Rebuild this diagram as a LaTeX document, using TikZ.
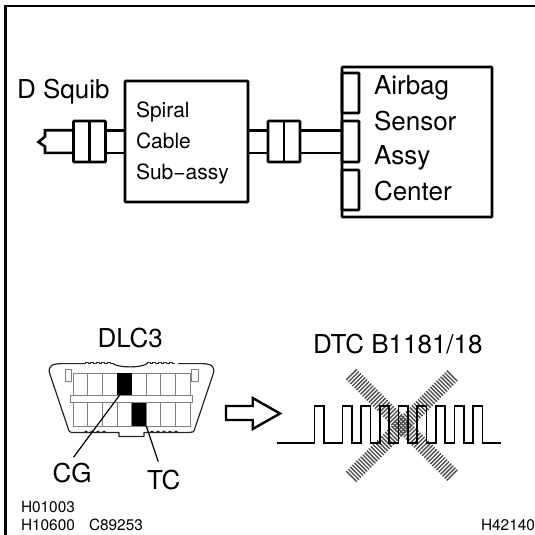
\documentclass[tikz,border=0pt]{standalone}
\usepackage{fontspec}
\setmainfont{TeX Gyre Heros}
\usetikzlibrary{positioning}

\begin{document}
\begin{tikzpicture}[
  x=1pt, y=-1pt,
  pBox/.style={rectangle, draw=black, line width=2.6pt, rounded corners=0.6pt,
    inner sep=0pt, outer sep=0pt},
  pPlug/.style={pBox, minimum width=32pt, minimum height=41pt},
  pTab/.style={pBox, minimum width=17pt, minimum height=40pt},
  pWire/.style={line width=2.6pt, black},
  pBig/.style={inner sep=0pt, outer sep=0pt, anchor=base west,
    font=\fontsize{26}{26}\selectfont},
  pMid/.style={pBig, font=\fontsize{21}{21}\selectfont},
  pSmall/.style={pBig, font=\fontsize{15.4}{15.4}\selectfont},
  pGrid/.style={line width=0.9pt, black!50},
  pPin/.style={rectangle, fill=black, inner sep=0pt, outer sep=0pt,
    minimum width=14.6pt},
  pShell/.style={line width=1.2pt, black!85, line join=round},
  pLead/.style={line width=1.2pt, black},
  pHatch/.style={line width=1.35pt, black!70},
]
  \useasboundingbox (0,0) rectangle (535,535);

  %% -- Frame ---------------------------------------------------
  \draw[line width=2.6pt] (5.5,535) -- (5.5,6) -- (535,6);

  %% -- Wiring diagram ------------------------------------------
  \node[pBox, minimum width=123pt, minimum height=121pt] (spiral) at (186.5,141.5) {};
  \node[pBox, minimum width=150pt, minimum height=150pt] (airbag) at (417,142) {};
  \node[pPlug] (plugL) at (89.5,141.5) {};
  \node[pPlug, right=20pt of spiral] (plugR) {};
  \node[pTab] (tabA) at (350.5,93) {};
  \node[pTab, minimum height=41pt] (tabB) at (350.5,141.5) {};
  \node[pTab] (tabC) at (350.5,190) {};

  \foreach \n in {plugL, plugR}
    \draw[line width=2.2pt] (\n.north) -- (\n.south);

  \foreach \s in {11.3,-11.3} {
    \draw[pWire] ([yshift=\s pt]plugL.east) -- ([yshift=\s pt]spiral.west);
    \draw[pWire] ([yshift=\s pt]spiral.east) -- ([yshift=\s pt]plugR.west);
    \draw[pWire] ([yshift=\s pt]plugR.east) -- ([yshift=\s pt]tabB.west);
  }
  \draw[pWire, line join=miter] ([yshift=11.3pt]plugL.west) -- (45,130.2) -- (45,136.5)
    -- (38.5,142) -- (45,146.5) -- (45,152.8) -- ([yshift=-11.3pt]plugL.west);

  \node[pBig] (squib) at (17,98) {D Squib};
  \node[pMid] (spiralA) at (136,117.7) {Spiral};
  \node[pMid] (spiralB) at (136,148) {Cable};
  \node[pMid] (spiralC) at (136,179) {Sub−assy};
  \node[pBig] (airbagA) at (374,94) {Airbag};
  \node[pBig] (airbagB) at (374,130) {Sensor};
  \node[pBig] (airbagC) at (374,164) {Assy};
  \node[pBig] (airbagD) at (374,200.7) {Center};

  %% -- DLC3 connector ------------------------------------------
  \draw[pShell] (85,363.6) -- (62,363.6) .. controls (52,363.6) and (48,366) .. (49.5,373)
    -- (68,428) .. controls (69,432) and (70,432.5) .. (74,432.5) -- (119,432.5)
    -- (119,436.5) -- (144,436.5) -- (144,432.5) -- (190,432.5)
    .. controls (193,432.5) and (194,432) .. (195,428) -- (213.5,373)
    .. controls (215,366) and (211,363.6) .. (201,363.6) -- (178,363.6);
  \draw[pShell] (113,363.6) .. controls (118,368) and (142,368) .. (147,363.6);
  \foreach \x in {85,90.5,...,108}
    \draw[pShell, line width=1pt] (\x,363.6) -- (\x,362.2) -- (\x+3,362.2) -- (\x+3,363.6) -- (\x+5.5,363.6);
  \foreach \x in {147,152.5,...,173}
    \draw[pShell, line width=1pt] (\x,363.6) -- (\x,362.2) -- (\x+3,362.2) -- (\x+3,363.6) -- (\x+5.5,363.6);
  \foreach \x in {84,90,...,102,150,156,...,174}
    \draw[pShell, line width=1pt] (\x,432.5) -- (\x+2,431) -- (\x+4,432.5);

  \draw[pGrid] (73.3,373.3) rectangle (190,395);
  \draw[pGrid] (73.3,402.7) rectangle (190,426);
  \foreach \i in {1,...,7}
    \draw[pGrid] (73.3+14.6*\i,373.3) -- (73.3+14.6*\i,395)
      (73.3+14.6*\i,402.7) -- (73.3+14.6*\i,426);
  \draw[pGrid] (70.7,395) rectangle (192.7,402.7);
  \draw[pGrid] (65,369.3) rectangle (71.7,381);
  \draw[pGrid] (191.7,369.3) rectangle (198.3,381);

  \node[pPin, minimum height=21.7pt] (pinCG) at (124.5,384.2) {};
  \node[pPin, minimum height=23.3pt] (pinTC) at (139,414.4) {};

  \node[pBig] (dlc) at (97.5,347) {DLC3};
  \node[pBig] (labCG) at (52.5,482.7) {CG};
  \node[pBig] (labTC) at (147,489) {TC};
  \draw[pLead] ([xshift=2.5pt]pinCG.south west) -- ([xshift=1.5pt,yshift=6pt]labCG.north);
  \draw[pLead] (pinTC.south east) -- ([xshift=-5.5pt,yshift=8pt]labTC.north);

  %% -- Hollow arrow --------------------------------------------
  \draw[line width=2.4pt, line join=miter] (226,406) -- (252.7,406) -- (252.7,398) -- (280,413.5)
    -- (252.7,429) -- (252.7,420) -- (226,420) -- cycle;

  %% -- Crossed-out pulse train ---------------------------------
  \foreach \a in {45,-45} {
    \begin{scope}[shift={(402.5,425.5)}, rotate=\a]
      \foreach \s in {-72,-69.1,...,72.5}
        \draw[pHatch] (\s,-7.5) -- (\s,7.5);
    \end{scope}
  }

  \draw[line width=1.6pt, line join=miter] (276.7,443) -- (314.3,443)
    -- (314.3,406) -- (323.7,406) -- (323.7,443) -- (342.3,443)
    -- (342.3,406) -- (351.7,406) -- (351.7,443) -- (361,443)
    -- (361,406) -- (370.3,406) -- (370.3,443) -- (379.7,443)
    -- (379.7,406) -- (389,406) -- (389,443) -- (398.3,443)
    -- (398.3,406) -- (407.7,406) -- (407.7,443) -- (417,443)
    -- (417,406) -- (426.3,406) -- (426.3,443) -- (435.7,443)
    -- (435.7,406) -- (445,406) -- (445,443) -- (454.3,443)
    -- (454.3,406) -- (463.7,406) -- (463.7,443) -- (473,443)
    -- (473,406) -- (482.3,406) -- (482.3,443) -- (500.7,443);

  \node[pBig] (dtc) at (313,353) {DTC B1181/18};

  %% -- Part numbers --------------------------------------------
  \node[pSmall] (partA) at (21,512) {H01003};
  \node[pSmall] (partB) at (21,530.7) {H10600};
  \node[pSmall] (partC) at (89,530.7) {C89253};
  \node[pSmall] (partD) at (481,530.7) {H42140};
\end{tikzpicture}
\end{document}
